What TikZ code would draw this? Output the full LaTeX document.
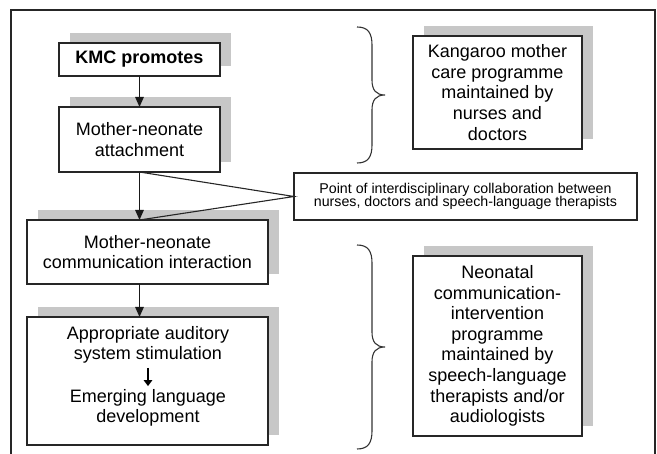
\documentclass[tikz,border=0pt]{standalone}
\usepackage{fontspec}
\setmainfont{Liberation Sans}
\usetikzlibrary{arrows.meta,shadows,calc}
\begin{document}
\begin{tikzpicture}[x=1pt,y=-1pt,
  box/.style={draw=black!85, line width=1.3pt, fill=white, align=center,
    inner sep=0pt, outer sep=0pt,
    general shadow={fill=black!22, draw=none, shadow xshift=11pt, shadow yshift=10pt},
    font=\fontsize{18}{20.6}\selectfont},
  plainbox/.style={draw=black!85, line width=1.3pt, fill=white, align=center,
    inner sep=0pt, outer sep=0pt, font=\fontsize{14.2}{13.5}\selectfont},
  txt/.style={align=center, inner sep=0pt, font=\fontsize{18}{20.6}\selectfont},
  arr/.style={draw=black!90, line width=1.3pt, -{Triangle[length=10pt,width=8.5pt]}},
  smallarr/.style={draw=black, line width=2pt, -{Triangle[length=6pt,width=8.5pt]}},
  thin/.style={draw=black!85, line width=1.1pt},
  brace/.style={draw=black!80, line width=1.1pt}
]
\useasboundingbox (0,0) rectangle (657,454);
% outer frame
\draw[thin] (11,454) -- (11,10) -- (655,10) -- (655,454);

% left column
\node[box, minimum width=161pt, minimum height=33pt] (kmc) at (139.5,59.5) {\textbf{KMC promotes}};
\node[box, minimum width=161pt, minimum height=65pt] (att) at (139.5,139.5) {Mother-neonate\\attachment};
\node[box, minimum width=241pt, minimum height=64pt] (comm) at (147.5,252) {Mother-neonate\\communication interaction};
\node[box, minimum width=241pt, minimum height=128pt] (app) at (147.5,381) {};
\node[txt] (appa) at (148,345) {Appropriate auditory\\system stimulation};
\node[txt] (appb) at (148,408) {Emerging language\\development};

% right column
\node[box, minimum width=169pt, minimum height=113pt] (kan) at (497.5,92.5)
  {Kangaroo mother\\care programme\\maintained by\\nurses and\\doctors};
\node[box, minimum width=169pt, minimum height=180pt] (neo) at (497.5,346)
  {Neonatal\\communication-\\intervention\\programme\\maintained by\\speech-language\\therapists and/or\\audiologists};
\node[plainbox, minimum width=343pt, minimum height=47pt] (pt) at (465.5,196.5)
  {Point of interdisciplinary collaboration between\\nurses, doctors and speech-language therapists};

% connectors
\draw[arr] (kmc.south) -- (att.north);
\draw[arr] (att.south) -- (att.south |- comm.north);
\draw[arr] (comm.south -| att.south) -- (app.north -| att.south);
\draw[thin] (att.south) -- (pt.west) -- (att.south |- comm.north);
\draw[smallarr] ($(appa.south)+(0,4)$) -- ($(appb.north)+(0,-3)$);

% braces
\draw[brace] (357,27) .. controls (368,27) and (372,33) .. (372,45) -- (372,80)
  .. controls (372,90) and (376,95) .. (385,95)
  .. controls (376,95) and (372,100) .. (372,110) -- (372,145)
  .. controls (372,157) and (368,163) .. (357,163);
\draw[brace] (357,245) .. controls (368,245) and (372,251) .. (372,263) -- (372,332)
  .. controls (372,342) and (376,347) .. (385,347)
  .. controls (376,347) and (372,352) .. (372,362) -- (372,431)
  .. controls (372,443) and (368,449) .. (357,449);
\end{tikzpicture}
\end{document}
